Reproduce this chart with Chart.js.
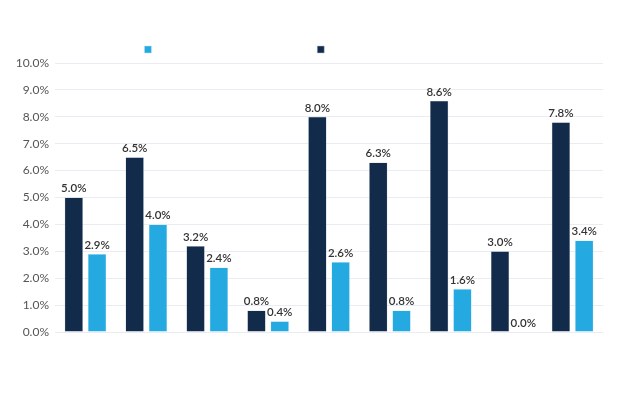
<!DOCTYPE html>
<html>
<head>
<meta charset="utf-8">
<script src="https://cdn.jsdelivr.net/npm/chart.js@4"></script>
<style>
  html, body { margin: 0; padding: 0; background: #fff; }
  #wrap { width: 624px; height: 398px; }
</style>
</head>
<body>
<div id="wrap"><canvas id="chart"></canvas></div>
<script>
const categories = ['', '', '', '', '', '', '', '', ''];
const darkValues = [5.0, 6.5, 3.2, 0.8, 8.0, 6.3, 8.6, 3.0, 7.8];
const lightValues = [2.9, 4.0, 2.4, 0.4, 2.6, 0.8, 1.6, 0.0, 3.4];
const yTicks = [0, 1, 2, 3, 4, 5, 6, 7, 8, 9, 10];

const DARK = '#132b4a';
const LIGHT = '#24a9e1';
const LEGEND_FONT = '7px Lato';

// the legend shows only the squares; blank text keeps them spaced apart
function blank(width) {
    const c = document.createElement('canvas').getContext('2d');
    c.font = LEGEND_FONT;
    const n = Math.round(width / c.measureText(' ').width);
    return ' '.repeat(n);
}

// draws the value above each bar
const valueLabels = {
    id: 'valueLabels',
    afterDatasetsDraw(chart) {
        const ctx = chart.ctx;
        ctx.save();
        ctx.font = '600 11.5px Lato, "Noto Sans", sans-serif';
        ctx.fillStyle = '#333';
        ctx.textAlign = 'center';
        ctx.textBaseline = 'bottom';
        chart.data.datasets.forEach((ds, i) => {
            chart.getDatasetMeta(i).data.forEach((bar, j) => {
                ctx.fillText(ds.data[j].toFixed(1) + '%', bar.x, bar.y - 3);
            });
        });
        ctx.restore();
    }
};

new Chart(document.getElementById('chart').getContext('2d'), {
    type: 'bar',
    data: {
        labels: categories,
        datasets: [
            { label: blank(130.5), data: darkValues, backgroundColor: DARK, borderColor: '#b9c4d2', borderWidth: 0.5 },
            { label: blank(151.5), data: lightValues, backgroundColor: LIGHT, borderColor: '#bfe6f7', borderWidth: 0.5 }
        ]
    },
    options: {
        responsive: true,
        maintainAspectRatio: false,
        animation: false,
        datasets: { bar: { categoryPercentage: 0.765, barPercentage: 0.79 } },
        layout: { padding: { top: 36, bottom: 66, right: 21, left: 0 } },
        plugins: {
            legend: {
                position: 'top',
                reverse: true,
                labels: { boxWidth: 7, boxHeight: 7, padding: 10, font: { family: 'Lato', size: 7 } }
            },
            tooltip: { enabled: false }
        },
        scales: {
            x: { display: false },
            y: {
                min: 0,
                max: 10,
                afterBuildTicks: (axis) => { axis.ticks = yTicks.map(v => ({ value: v })); },
                afterFit: (axis) => { axis.width = 55; },
                grid: { color: '#e9edf3', drawTicks: false },
                border: { display: false },
                ticks: {
                    color: '#555',
                    font: { family: 'Lato, "Noto Sans", sans-serif', size: 12 },
                    padding: 6,
                    callback: v => v.toFixed(1) + '%'
                }
            }
        }
    },
    plugins: [valueLabels]
});
</script>
</body>
</html>
